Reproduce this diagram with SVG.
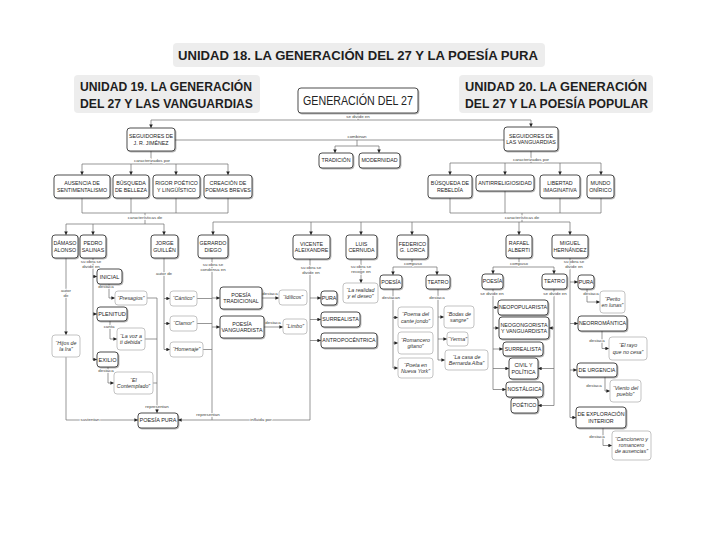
<svg xmlns="http://www.w3.org/2000/svg" width="720" height="540" viewBox="0 0 720 540">
<defs>
<style>
.bg{fill:#ededed}
.h{font-family:"Liberation Sans",Arial,sans-serif;font-weight:bold;fill:#1e1e1e;font-size:13px}
.n{fill:#fff;stroke:#3a3a3a;stroke-width:0.9;rx:3px;filter:url(#sh)}
.q{fill:#fff;stroke:#b4b4b4;stroke-width:0.8;rx:3px}
.t{font-family:"Liberation Sans",Arial,sans-serif;font-size:5.3px;fill:#222;text-anchor:middle}
.it{font-style:italic;fill:#333}
.m{font-size:5.6px}
.l{font-family:"Liberation Sans",Arial,sans-serif;font-size:4.4px;fill:#444;text-anchor:middle;stroke:#fff;stroke-width:1.6px;paint-order:stroke}
.c path{fill:none;stroke:#6a6a6a;stroke-width:0.7}
.c .ar{marker-end:url(#ah)}
</style>
<filter id="sh" x="-20%" y="-20%" width="150%" height="170%"><feDropShadow dx="0.8" dy="0.9" stdDeviation="0.5" flood-color="#000" flood-opacity="0.35"/></filter>
<marker id="ah" viewBox="0 0 6 6" refX="6" refY="3" markerWidth="3.6" markerHeight="3.6" markerUnits="userSpaceOnUse" orient="auto"><path d="M0,0L6,3L0,6z" fill="#222"/></marker>
</defs>
<rect width="720" height="540" fill="#fff"/>

<g id="headings">
<rect class="bg" x="173" y="43" width="372" height="24" rx="4"/>
<text class="h" x="178" y="60" textLength="360" lengthAdjust="spacingAndGlyphs">UNIDAD 18. LA GENERACIÓN DEL 27 Y LA POESÍA PURA</text>
<rect class="bg" x="74" y="75" width="186" height="38" rx="4"/>
<text class="h" x="80" y="90.5" textLength="172" lengthAdjust="spacingAndGlyphs">UNIDAD 19. LA GENERACIÓN</text>
<text class="h" x="80" y="107.5" textLength="173" lengthAdjust="spacingAndGlyphs">DEL 27 Y LAS VANGUARDIAS</text>
<rect class="bg" x="459" y="75" width="194" height="38" rx="4"/>
<text class="h" x="465" y="90.5" textLength="182" lengthAdjust="spacingAndGlyphs">UNIDAD 20. LA GENERACIÓN</text>
<text class="h" x="465" y="107.5" textLength="183" lengthAdjust="spacingAndGlyphs">DEL 27 Y LA POESÍA POPULAR</text>
</g>

<g class="c" id="connectors">
<path d="M358,113V120M151,120H531"/>
<path class="ar" d="M151,120V128"/><path class="ar" d="M531,120V127"/>
<path d="M175,140H504M357,140V146M335,146H379"/>
<path class="ar" d="M335,146V153"/><path class="ar" d="M379,146V153"/>
<path d="M151,151V164M82,164H228"/>
<path class="ar" d="M82,164V175"/><path class="ar" d="M131,164V175"/><path class="ar" d="M176,164V175"/><path class="ar" d="M228,164V175"/>
<path d="M82,198V213M131,198V213M176,198V213M228,198V213M82,213H228M145,213V224M66,224H164"/>
<path class="ar" d="M66,224V235"/><path class="ar" d="M93,224V235"/><path class="ar" d="M164,224V235"/>
<path d="M531,151V163M450,163H601"/>
<path class="ar" d="M450,163V175"/><path class="ar" d="M505,163V175"/><path class="ar" d="M560,163V175"/><path class="ar" d="M601,163V175"/>
<path d="M450,198V213M505,191V213M560,198V213M601,198V213M450,213H601M522,213V222M213,222H570"/>
<path class="ar" d="M213,222V235"/><path class="ar" d="M311,222V235"/><path class="ar" d="M361,222V235"/><path class="ar" d="M412,222V235"/><path class="ar" d="M519,222V235"/><path class="ar" d="M570,222V235"/>
<!-- Damaso -->
<path class="ar" d="M66,258V335"/>
<path class="ar" d="M66,357V420H138"/>
<!-- Pedro -->
<path d="M93,258V360"/>
<path class="ar" d="M93,276.5H97"/><path class="ar" d="M93,314H97"/><path class="ar" d="M93,359.5H97"/>
<path class="ar" d="M109,284V298H115"/>
<path class="ar" d="M147,298H157V413"/>
<path class="ar" d="M110,321V339H117"/>
<path d="M145,339H157"/>
<path class="ar" d="M108,367V383H114"/>
<path d="M153,383H157"/>
<!-- Jorge -->
<path d="M164,258V349.5"/>
<path class="ar" d="M164,298.5H170"/><path class="ar" d="M164,323.5H170"/><path class="ar" d="M164,349.5H170"/>
<path d="M197,298.5H212M197,323.5H212M203,349.5H212"/>
<!-- Gerardo -->
<path d="M212,258V420"/>
<path class="ar" d="M212,298H220"/><path class="ar" d="M212,327H220"/>
<path class="ar" d="M262,298H279"/><path class="ar" d="M264,327H283"/>
<!-- Vicente -->
<path d="M310,259V420"/>
<path class="ar" d="M310,298H321"/><path class="ar" d="M310,319.5H321"/><path class="ar" d="M310,340.5H321"/>
<path class="ar" d="M310,420H178"/>
<!-- Luis -->
<path class="ar" d="M361,259V283"/>
<!-- Federico -->
<path d="M412,259V267M393,267H437"/>
<path class="ar" d="M393,267V275"/><path class="ar" d="M437,267V275"/>
<path d="M393,289V368"/>
<path class="ar" d="M393,317.5H398"/><path class="ar" d="M393,343H398"/><path class="ar" d="M393,368H398"/>
<path d="M438,289V360"/>
<path class="ar" d="M438,317H444"/><path class="ar" d="M438,339H447"/><path class="ar" d="M438,360H445"/>
<!-- Rafael -->
<path d="M519,258V267M493,267H554"/>
<path class="ar" d="M493,267V274"/><path class="ar" d="M554,267V274"/>
<path d="M493,289V389.5"/>
<path class="ar" d="M493,307.5H498"/><path class="ar" d="M493,328H499"/><path class="ar" d="M493,349H503"/><path class="ar" d="M493,368.5H509"/><path class="ar" d="M493,389.5H506"/>
<path d="M554,289V405.5"/>
<path class="ar" d="M554,328H549"/><path class="ar" d="M554,368.5H538"/><path class="ar" d="M554,405.5H538"/>
<!-- Miguel -->
<path d="M570,258V417.5"/>
<path class="ar" d="M570,282H578"/><path class="ar" d="M570,323.5H578"/><path class="ar" d="M570,370H577"/><path class="ar" d="M570,417.5H576"/>
<path class="ar" d="M587,289V302H600"/>
<path class="ar" d="M602,331V348.5H609"/>
<path class="ar" d="M605,377V391H610"/>
<path class="ar" d="M603,428V445.5H612"/>
</g>

<g id="labels">
<text class="l" x="358" y="117.5">se divide en</text>
<text class="l" x="357" y="138">combinan</text>
<text class="l" x="152" y="162">caracterizados por</text>
<text class="l" x="531" y="161">caracterizados por</text>
<text class="l" x="145" y="218.5">características de</text>
<text class="l" x="522" y="218.5">características de</text>
<text class="l" x="66" y="292">autor</text><text class="l" x="66" y="297">de</text>
<text class="l" x="91" y="263">su obra se</text><text class="l" x="91" y="268">divide en</text>
<text class="l" x="106" y="288">destaca</text>
<text class="l" x="109" y="327.5">canta</text>
<text class="l" x="106" y="371.5">destaca</text>
<text class="l" x="157" y="408">representan</text>
<text class="l" x="90" y="421">sustentan</text>
<text class="l" x="164" y="275">autor de</text>
<text class="l" x="213" y="266">su obra se</text><text class="l" x="213" y="271">condensa en</text>
<text class="l" x="270" y="295">destaca</text>
<text class="l" x="273" y="324">destaca</text>
<text class="l" x="311" y="269">su obra se</text><text class="l" x="311" y="274">divide en</text>
<text class="l" x="361" y="268">su obra se</text><text class="l" x="361" y="273">recoge en</text>
<text class="l" x="413" y="264.5">compuso</text>
<text class="l" x="391" y="298.5">destacan</text>
<text class="l" x="437" y="298.5">destaca</text>
<text class="l" x="519" y="264.5">compuso</text>
<text class="l" x="492" y="295">se divide en</text>
<text class="l" x="555" y="295">se divide en</text>
<text class="l" x="574" y="263">su obra se</text><text class="l" x="574" y="268">divide en</text>
<text class="l" x="591" y="295">destaca</text>
<text class="l" x="597" y="342">destaca</text>
<text class="l" x="594" y="386.5">destaca</text>
<text class="l" x="597" y="438">destaca</text>
<text class="l" x="208" y="416">representan</text>
<text class="l" x="261" y="421">influida por</text>
</g>

<g id="n-gen27"><rect class="n" x="298" y="88" width="120" height="25"/><text class="t" x="358" y="104.5" style="font-size:12px" textLength="110" lengthAdjust="spacingAndGlyphs">GENERACIÓN DEL 27</text></g>
<g id="n-jrj"><rect class="n" x="127" y="128" width="48" height="23"/><text class="t" x="151" y="138.2">SEGUIDORES DE</text><text class="t" x="151" y="144.5">J. R. JIMÉNEZ</text></g>
<g id="n-vang"><rect class="n" x="504" y="127" width="54" height="24"/><text class="t" x="531" y="137.7">SEGUIDORES DE</text><text class="t" x="531" y="144">LAS VANGUARDIAS</text></g>
<g id="n-trad"><rect class="n" x="319" y="153" width="34" height="15"/><text class="t" x="336" y="162.4">TRADICIÓN</text></g>
<g id="n-mod"><rect class="n" x="359" y="153" width="41" height="15"/><text class="t" x="379.5" y="162.4">MODERNIDAD</text></g>
<g id="n-aus"><rect class="n" x="54" y="175" width="56" height="23"/><text class="t" x="82" y="185.2">AUSENCIA DE</text><text class="t" x="82" y="191.5">SENTIMENTALISMO</text></g>
<g id="n-bel"><rect class="n" x="113" y="175" width="36" height="23"/><text class="t" x="131" y="185.2">BÚSQUEDA</text><text class="t" x="131" y="191.5">DE BELLEZA</text></g>
<g id="n-rig"><rect class="n" x="153" y="175" width="47" height="23"/><text class="t" x="176.5" y="185.2">RIGOR POÉTICO</text><text class="t" x="176.5" y="191.5">Y LINGÜÍSTICO</text></g>
<g id="n-cre"><rect class="n" x="204" y="175" width="48" height="23"/><text class="t" x="228" y="185.2">CREACIÓN DE</text><text class="t" x="228" y="191.5">POEMAS BREVES</text></g>
<g id="n-reb"><rect class="n" x="428" y="175" width="44" height="23"/><text class="t" x="450" y="185.2">BÚSQUEDA DE</text><text class="t" x="450" y="191.5">REBELDÍA</text></g>
<g id="n-anti"><rect class="n" x="476" y="175" width="58" height="16"/><text class="t" x="505" y="184.9">ANTIRRELIGIOSIDAD</text></g>
<g id="n-lib"><rect class="n" x="540" y="175" width="40" height="23"/><text class="t" x="560" y="185.2">LIBERTAD</text><text class="t" x="560" y="191.5">IMAGINATIVA</text></g>
<g id="n-mun"><rect class="n" x="587" y="175" width="27" height="23"/><text class="t" x="600.5" y="185.2">MUNDO</text><text class="t" x="600.5" y="191.5">ONÍRICO</text></g>

<g id="n-dam"><rect class="n" x="52" y="235" width="26" height="23"/><text class="t" x="65" y="245.2">DÁMASO</text><text class="t" x="65" y="251.5">ALONSO</text></g>
<g id="n-ped"><rect class="n" x="80" y="235" width="26" height="23"/><text class="t" x="93" y="245.2">PEDRO</text><text class="t" x="93" y="251.5">SALINAS</text></g>
<g id="n-jor"><rect class="n" x="151" y="235" width="27" height="23"/><text class="t" x="164.5" y="245.2">JORGE</text><text class="t" x="164.5" y="251.5">GUILLÉN</text></g>
<g id="n-ger"><rect class="n" x="198" y="235" width="30" height="23"/><text class="t" x="213" y="245.2">GERARDO</text><text class="t" x="213" y="251.5">DIEGO</text></g>
<g id="n-vic"><rect class="n" x="293" y="235" width="37" height="24"/><text class="t" x="311.5" y="245.5">VICENTE</text><text class="t" x="311.5" y="251.8">ALEIXANDRE</text></g>
<g id="n-lui"><rect class="n" x="346" y="235" width="31" height="24"/><text class="t" x="361.5" y="245.5">LUIS</text><text class="t" x="361.5" y="251.8">CERNUDA</text></g>
<g id="n-fed"><rect class="n" x="397" y="235" width="31" height="24"/><text class="t" x="412.5" y="245.5">FEDERICO</text><text class="t" x="412.5" y="251.8">G. LORCA</text></g>
<g id="n-raf"><rect class="n" x="506" y="235" width="26" height="23"/><text class="t" x="519" y="245.2">RAFAEL</text><text class="t" x="519" y="251.5">ALBERTI</text></g>
<g id="n-mig"><rect class="n" x="552" y="235" width="36" height="23"/><text class="t" x="570" y="245.2">MIGUEL</text><text class="t" x="570" y="251.5">HERNÁNDEZ</text></g>

<g id="n-hijos"><rect class="q" x="52" y="335" width="28" height="22"/><text class="t it" x="66" y="344.7">“Hijos de</text><text class="t it" x="66" y="351">la Ira”</text></g>
<g id="n-inicial"><rect class="n" x="97" y="269" width="25" height="15"/><text class="t m" x="109.5" y="278.5">INICIAL</text></g>
<g id="n-presagios"><rect class="q" x="115" y="291" width="32" height="14"/><text class="t it" x="131" y="299.9">“Presagios”</text></g>
<g id="n-plenitud"><rect class="n" x="97" y="307" width="30" height="14"/><text class="t m" x="112" y="316">PLENITUD</text></g>
<g id="n-lavoz"><rect class="q" x="117" y="328" width="28" height="22"/><text class="t it" x="131" y="337.7">“La voz a</text><text class="t it" x="131" y="344">ti debida”</text></g>
<g id="n-exilio"><rect class="n" x="97" y="352" width="21" height="15"/><text class="t m" x="107.5" y="361.5">EXILIO</text></g>
<g id="n-contemplado"><rect class="q" x="114" y="372" width="39" height="22"/><text class="t it" x="133.5" y="381.7">“El</text><text class="t it" x="133.5" y="388">Contemplado”</text></g>
<g id="n-cantico"><rect class="q" x="170" y="291" width="27" height="15"/><text class="t it" x="183.5" y="300.4">“Cántico”</text></g>
<g id="n-clamor"><rect class="q" x="170" y="316" width="27" height="15"/><text class="t it" x="183.5" y="325.4">“Clamor”</text></g>
<g id="n-homenaje"><rect class="q" x="170" y="342" width="33" height="15"/><text class="t it" x="186.5" y="351.4">“Homenaje”</text></g>
<g id="n-ptrad"><rect class="n" x="220" y="287" width="42" height="22"/><text class="t" x="241" y="296.7">POESÍA</text><text class="t" x="241" y="303">TRADICIONAL</text></g>
<g id="n-idilicos"><rect class="q" x="279" y="290" width="28" height="15"/><text class="t it" x="293" y="299.4">“Idílicos”</text></g>
<g id="n-pvang"><rect class="n" x="220" y="316" width="44" height="22"/><text class="t" x="242" y="325.7">POESÍA</text><text class="t" x="242" y="332">VANGUARDISTA</text></g>
<g id="n-limbo"><rect class="q" x="283" y="319" width="24" height="15"/><text class="t it" x="295" y="328.4">“Limbo”</text></g>
<g id="n-pura1"><rect class="n" x="321" y="291" width="16" height="14"/><text class="t" x="329" y="299.9">PURA</text></g>
<g id="n-surr1"><rect class="n" x="321" y="312" width="39" height="15"/><text class="t" x="340.5" y="321.4">SURREALISTA</text></g>
<g id="n-antro"><rect class="n" x="321" y="333" width="56" height="15"/><text class="t" x="349" y="342.4">ANTROPOCÉNTRICA</text></g>
<g id="n-realidad"><rect class="q" x="343" y="283" width="35" height="20"/><text class="t it" x="360.5" y="291.7">“La realidad</text><text class="t it" x="360.5" y="298">y el deseo”</text></g>
<g id="n-lpoesia"><rect class="n" x="380" y="275" width="22" height="14"/><text class="t" x="391" y="283.9">POESÍA</text></g>
<g id="n-lteatro"><rect class="n" x="426" y="275" width="24" height="14"/><text class="t" x="438" y="283.9">TEATRO</text></g>
<g id="n-cante"><rect class="q" x="398" y="307" width="35" height="21"/><text class="t it" x="415.5" y="316.2">“Poema del</text><text class="t it" x="415.5" y="322.5">cante jondo”</text></g>
<g id="n-romancero"><rect class="q" x="398" y="332" width="35" height="22"/><text class="t it" x="415.5" y="341.7">“Romancero</text><text class="t it" x="415.5" y="348">gitano”</text></g>
<g id="n-poeta"><rect class="q" x="398" y="358" width="35" height="20"/><text class="t it" x="415.5" y="366.7">“Poeta en</text><text class="t it" x="415.5" y="373">Nueva York”</text></g>
<g id="n-bodas"><rect class="q" x="444" y="306" width="30" height="22"/><text class="t it" x="459" y="315.7">“Bodas de</text><text class="t it" x="459" y="322">sangre”</text></g>
<g id="n-yerma"><rect class="q" x="447" y="332" width="21" height="14"/><text class="t it" x="457.5" y="340.9">“Yerma”</text></g>
<g id="n-bernarda"><rect class="q" x="445" y="350" width="43" height="20"/><text class="t it" x="466.5" y="358.7">“La casa de</text><text class="t it" x="466.5" y="365">Bernarda Alba”</text></g>
<g id="n-rpoesia"><rect class="n" x="482" y="274" width="21" height="15"/><text class="t" x="492.5" y="283.4">POESÍA</text></g>
<g id="n-rteatro"><rect class="n" x="542" y="274" width="25" height="15"/><text class="t" x="554.5" y="283.4">TEATRO</text></g>
<g id="n-neopop"><rect class="n" x="498" y="300" width="50" height="15"/><text class="t" x="523" y="309.4">NEOPOPULARISTA</text></g>
<g id="n-neogon"><rect class="n" x="499" y="317" width="50" height="22"/><text class="t" x="524" y="326.7">NEOGONGORISTA</text><text class="t" x="524" y="333">Y VANGUARDISTA</text></g>
<g id="n-surr2"><rect class="n" x="503" y="342" width="40" height="14"/><text class="t" x="523" y="350.9">SURREALISTA</text></g>
<g id="n-civil"><rect class="n" x="509" y="358" width="29" height="21"/><text class="t" x="523.5" y="367.2">CIVIL Y</text><text class="t" x="523.5" y="373.5">POLÍTICA</text></g>
<g id="n-nost"><rect class="n" x="506" y="382" width="37" height="15"/><text class="t" x="524.5" y="391.4">NOSTÁLGICA</text></g>
<g id="n-poetico"><rect class="n" x="511" y="398" width="27" height="15"/><text class="t" x="524.5" y="407.4">POÉTICO</text></g>
<g id="n-mpura"><rect class="n" x="578" y="275" width="16" height="14"/><text class="t" x="586" y="283.9">PURA</text></g>
<g id="n-perito"><rect class="q" x="600" y="291" width="25" height="22"/><text class="t it" x="612.5" y="300.7">“Perito</text><text class="t it" x="612.5" y="307">en lunas”</text></g>
<g id="n-neorrom"><rect class="n" x="578" y="316" width="49" height="15"/><text class="t" x="602.5" y="325.4">NEORROMÁNTICA</text></g>
<g id="n-rayo"><rect class="q" x="609" y="337" width="38" height="23"/><text class="t it" x="628" y="347.2">“El rayo</text><text class="t it" x="628" y="353.5">que no cesa”</text></g>
<g id="n-urgencia"><rect class="n" x="577" y="363" width="40" height="14"/><text class="t" x="597" y="371.9">DE URGENCIA</text></g>
<g id="n-viento"><rect class="q" x="610" y="380" width="31" height="22"/><text class="t it" x="625.5" y="389.7">“Viento del</text><text class="t it" x="625.5" y="396">pueblo”</text></g>
<g id="n-explor"><rect class="n" x="576" y="407" width="50" height="21"/><text class="t" x="601" y="416.2">DE EXPLORACIÓN</text><text class="t" x="601" y="422.5">INTERIOR</text></g>
<g id="n-cancionero"><rect class="q" x="612" y="431" width="39" height="29"/><text class="t it" x="631.5" y="441.4">“Cancionero y</text><text class="t it" x="631.5" y="447.4">romancero</text><text class="t it" x="631.5" y="453.4">de ausencias”</text></g>
<g id="n-ppura"><rect class="n" x="138" y="413" width="40" height="15"/><text class="t" x="158" y="422.4" style="font-size:5.5px">POESÍA PURA</text></g>
</svg>
